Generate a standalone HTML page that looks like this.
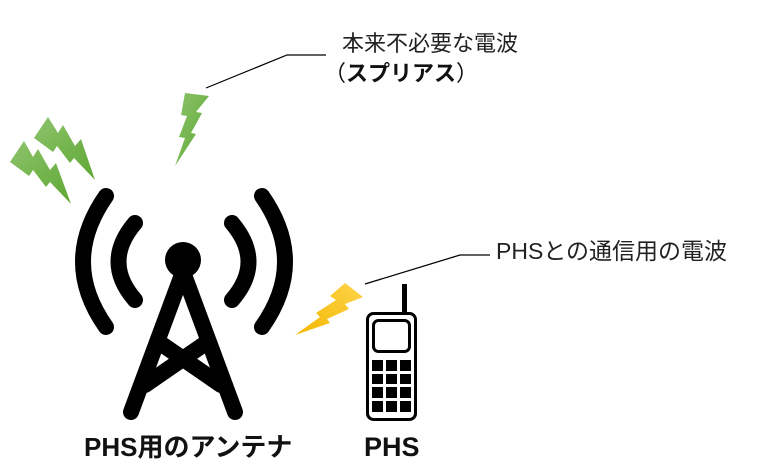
<!DOCTYPE html>
<html><head><meta charset="utf-8"><style>
html,body{margin:0;padding:0;background:#fff;}
body{width:768px;height:468px;overflow:hidden;position:relative;}
svg{position:absolute;left:0;top:0;}
text{font-family:"Liberation Sans","Noto Sans CJK JP",sans-serif;}
</style></head><body>
<svg width="768" height="468" viewBox="0 0 768 468">
<defs>
<linearGradient id="g" x1="0" y1="0" x2="1" y2="1"><stop offset="0" stop-color="#8cc36b"/><stop offset="1" stop-color="#5fa834"/></linearGradient>
<linearGradient id="y" x1="1" y1="0" x2="0" y2="1"><stop offset="0" stop-color="#ffd34a"/><stop offset="1" stop-color="#f2b800"/></linearGradient>
</defs>
<polygon points="185,93 209,96 196,112 202,113 191,133 196,134 175,166 185,138 179,137 187,116 181,115" fill="url(#g)"/>
<polygon points="10,162 24,141 33,157 38,149 50,170 56,163 71,204 50,182 46,187 33,170 29,176" fill="url(#g)"/>
<polygon points="34,138 48,117 58,133 63,125 75,146 81,139 95,180 74,158 70,163 57,146 53,152" fill="url(#g)"/>
<polygon points="345,283 363,297 345,304 349,309 327,319 330,323 295,335 320,317 316,313 336,300 330,296" fill="url(#y)"/>
<polyline points="206,88 287,55 326,55" fill="none" stroke="#000" stroke-width="1.2"/>
<polyline points="365,284 460,255 490,255" fill="none" stroke="#000" stroke-width="1.2"/>
<g fill="none" stroke="#000" stroke-width="16" stroke-linecap="round">
<path d="M106,196 Q60,262 106,327"/>
<path d="M135,223 Q102,262 135,300"/>
<path d="M262,196 Q308,262 262,327"/>
<path d="M232,223 Q265,262 232,300"/>
<path d="M183,272 L131,412"/>
<path d="M183,272 L235,412"/>
<path d="M163,345 L221,385"/>
<path d="M203,345 L145,385"/>
</g>
<circle cx="183" cy="260" r="18" fill="#000"/>
<rect x="402" y="284" width="5" height="30" fill="#000"/>
<rect x="367.5" y="313.5" width="48" height="106" rx="6" fill="none" stroke="#000" stroke-width="3"/>
<rect x="373.5" y="320.5" width="36" height="31" rx="5" fill="none" stroke="#000" stroke-width="3"/>
<g fill="#000">
<rect x="372" y="360" width="11" height="11"/><rect x="386" y="360" width="11" height="11"/><rect x="400" y="360" width="11" height="11"/>
<rect x="372" y="374" width="11" height="10"/><rect x="386" y="374" width="11" height="10"/><rect x="400" y="374" width="11" height="10"/>
<rect x="372" y="387" width="11" height="11"/><rect x="386" y="387" width="11" height="11"/><rect x="400" y="387" width="11" height="11"/>
<rect x="372" y="401" width="11" height="11"/><rect x="386" y="401" width="11" height="11"/><rect x="400" y="401" width="11" height="11"/>
</g>
<text x="342" y="51" font-size="22" fill="#222">本来不必要な電波</text>
<text x="324" y="81" font-size="22" fill="#111">（<tspan font-weight="bold">スプリアス</tspan>）</text>
<text x="496" y="259" font-size="23" fill="#222">PHSとの通信用の電波</text>
<text x="84" y="456" font-size="26" font-weight="bold" fill="#111">PHS用のアンテナ</text>
<text x="364" y="456" font-size="27" font-weight="bold" fill="#111">PHS</text>
</svg>
</body></html>
